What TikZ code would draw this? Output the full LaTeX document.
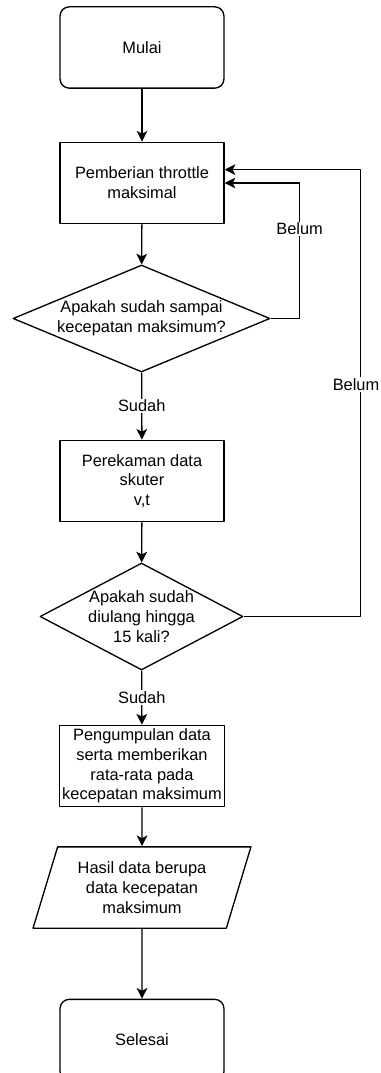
\documentclass[tikz,border=0pt]{standalone}
\usepackage{fontspec}
\setmainfont{Liberation Sans}
\usepackage{tikz}
\usetikzlibrary{arrows.meta,shapes.geometric}
\tikzset{
  every picture/.style={line join=round, >=Stealth},
  box/.style={draw, line width=1pt, minimum width=123pt, minimum height=61pt, align=center, inner sep=2pt},
  term/.style={box, rounded corners=7pt},
  decision/.style={draw, line width=1pt, diamond, align=center, inner sep=0pt, minimum height=80.25pt},
  io/.style={draw, line width=1pt, trapezium, trapezium left angle=70, trapezium right angle=110, trapezium stretches=true, align=center, inner sep=0pt, minimum width=163.5pt, minimum height=61pt},
  flow/.style={line width=1pt, -{Stealth[length=8pt, width=8pt, inset=2pt]}},
  lbl/.style={fill=white, inner sep=1pt},
}

\begin{document}
\begin{tikzpicture}[x=0.75pt, y=-0.75pt, font=\fontsize{12.3pt}{14.8pt}\selectfont]
\useasboundingbox (0,0) rectangle (380,1073);
% steps from top to bottom
\node[term] (mulai) at (142,47.5) {Mulai};
\node[box] (throttle) at (142,183) {Pemberian throttle\\maksimal};
\node[decision, aspect=2.4, minimum width=192.75pt] (cekmaks) at (141.5,318.5) {Apakah sudah sampai\\kecepatan maksimum?};
\node[box] (rekam) at (142,481) {Perekaman data\\skuter\\v,t};
\node[decision, aspect=1.9, minimum width=152.25pt, inner xsep=-12pt] (cekulang) at (141.5,616.5) {Apakah sudah\\diulang hingga\\15 kali?};
\node[box] (kumpul) at (142,766) {Pengumpulan data\\serta memberikan\\rata-rata pada\\kecepatan maksimum};
\node[io] (hasil) at (142,887.5) {Hasil data berupa\\data kecepatan\\maksimum};
\node[term] (selesai) at (142,1040) {Selesai};

% main line
\draw[flow] (mulai) -- (throttle);
\draw[flow] (throttle) -- (cekmaks);
\draw[flow] (cekmaks) -- node[lbl]{Sudah} (rekam);
\draw[flow] (rekam) -- (cekulang);
\draw[flow] (cekulang) -- node[lbl]{Sudah} (kumpul);
\draw[flow] (kumpul) -- (hasil);
\draw[flow] (hasil) -- (selesai);

% loops back
\draw[flow] (cekmaks.east) -- ++(29,0) |- node[lbl, pos=0.33]{Belum} (throttle.east);
\draw[flow] (cekulang.east) -- ++(117,0) |- node[lbl, pos=0.26, xshift=-3.5pt]{Belum} ([yshift=10pt]throttle.east);
\end{tikzpicture}
\end{document}
